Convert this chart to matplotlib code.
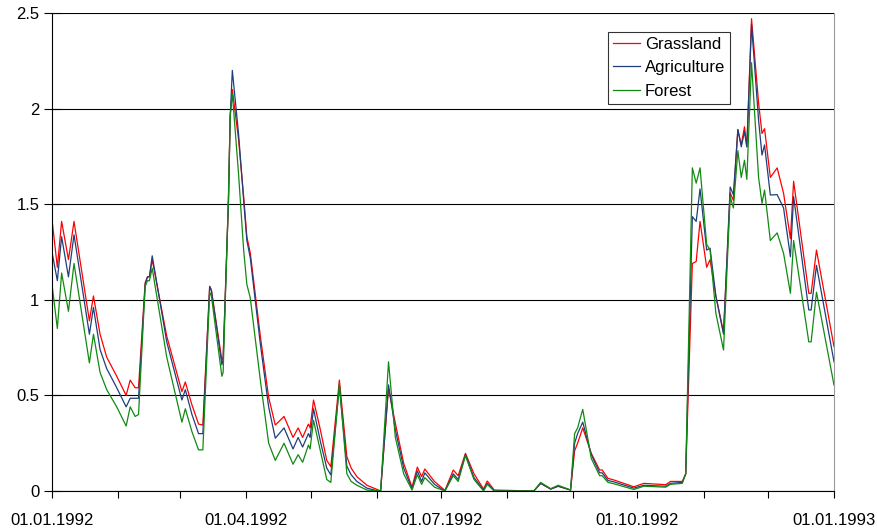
import numpy as np
import matplotlib
matplotlib.use('Agg')
import matplotlib.pyplot as plt
from matplotlib.ticker import FuncFormatter

plt.rcParams['font.family'] = ['Liberation Sans', 'DejaVu Sans']

# días desde el 01.01.1992
days = [0, 2.5, 4.5, 7.7, 10.3, 17.5, 19.4, 22.5, 25.6, 30.3, 34.7, 36.6, 38.9, 40.5,
        43.6, 44.7, 45.6, 46.9, 53.7, 60.8, 62.4, 65.5, 68.6, 70.6, 73.8, 74.6,
        79.5, 80.1, 82.6, 83.4, 84.4, 87.3, 89.7, 91.2, 92.8, 97.5, 101.4, 104.5,
        108.6, 112.8, 115.2, 117.3, 120.0, 120.8, 122.4, 125.6, 128.6, 130.5,
        134.5, 138.0, 140.0, 142.7, 147.4, 152.8, 153.8, 157.5, 160.7, 164.6, 168.5,
        171.0, 173.0, 174.5, 179.0, 183.9, 187.8, 190.1, 193.5, 197.5, 202.0,
        203.7, 207.0, 225.5, 228.7, 233.4, 236.9, 242.7, 244.6, 246.0, 248.4,
        252.4, 256.3, 257.5, 260.2, 262.9, 272.3, 277.0, 287.2, 289.5, 295.0,
        296.6, 299.7, 301.5, 303.3, 306.4, 308.0, 310.7, 314.3, 317.4, 318.9,
        321.0, 322.6, 324.1, 325.2, 327.4, 330.7, 332.3, 333.5, 336.2, 339.4,
        342.4, 345.6, 347.1, 354.2, 355.3, 357.8, 366]

grassland = [1.42, 1.17, 1.41, 1.21, 1.41, 0.89, 1.02, 0.82, 0.70, 0.60, 0.50, 0.58, 0.54, 0.54,
             1.09, 1.12, 1.12, 1.21, 0.81, 0.52, 0.57, 0.45, 0.35, 0.345, 1.07, 1.05,
             0.685, 0.70, 1.52, 1.96, 2.10, 1.84, 1.54, 1.33, 1.245, 0.81, 0.49, 0.345,
             0.39, 0.28, 0.33, 0.28, 0.35, 0.33, 0.476, 0.32, 0.16, 0.127,
             0.58, 0.18, 0.12, 0.075, 0.03, 0.005, 0.0, 0.537, 0.354, 0.145, 0.02,
             0.125, 0.075, 0.115, 0.05, 0.003, 0.11, 0.08, 0.197, 0.09, 0.01,
             0.052, 0.005, 0.0, 0.04, 0.01, 0.025, 0.005, 0.21, 0.25, 0.33,
             0.197, 0.11, 0.11, 0.066, 0.058, 0.022, 0.04, 0.033, 0.05, 0.05,
             0.09, 1.19, 1.20, 1.41, 1.17, 1.21, 1.02, 0.83, 1.56, 1.52,
             1.89, 1.81, 1.905, 1.80, 2.47, 2.03, 1.87, 1.895, 1.64, 1.69,
             1.557, 1.32, 1.62, 1.034, 1.034, 1.26, 0.755]

agriculture = [1.25, 1.10, 1.33, 1.12, 1.34, 0.82, 0.96, 0.74, 0.64, 0.54, 0.44, 0.485, 0.485, 0.485,
               1.08, 1.12, 1.12, 1.23, 0.78, 0.476, 0.53, 0.40, 0.30, 0.30, 1.07, 1.05,
               0.66, 0.69, 1.52, 1.96, 2.20, 1.87, 1.52, 1.31, 1.22, 0.77, 0.44, 0.276,
               0.33, 0.22, 0.28, 0.23, 0.30, 0.28, 0.43, 0.26, 0.12, 0.084,
               0.55, 0.13, 0.085, 0.05, 0.015, 0.0, 0.0, 0.555, 0.32, 0.12, 0.01,
               0.105, 0.05, 0.095, 0.035, 0.0, 0.09, 0.06, 0.19, 0.07, 0.005,
               0.04, 0.0, 0.0, 0.04, 0.01, 0.025, 0.005, 0.25, 0.30, 0.36,
               0.19, 0.095, 0.095, 0.055, 0.048, 0.015, 0.03, 0.025, 0.04, 0.045,
               0.09, 1.435, 1.41, 1.58, 1.26, 1.27, 1.02, 0.82, 1.59, 1.55,
               1.89, 1.80, 1.88, 1.80, 2.44, 1.94, 1.757, 1.81, 1.548, 1.55,
               1.48, 1.225, 1.54, 0.947, 0.947, 1.18, 0.676]

forest = [1.08, 0.85, 1.14, 0.94, 1.19, 0.67, 0.82, 0.62, 0.53, 0.44, 0.34, 0.44, 0.39, 0.40,
          1.07, 1.10, 1.10, 1.165, 0.70, 0.36, 0.43, 0.31, 0.215, 0.215, 1.04, 1.02,
          0.60, 0.62, 1.55, 1.96, 2.08, 1.66, 1.26, 1.08, 1.01, 0.58, 0.25, 0.16,
          0.25, 0.14, 0.19, 0.15, 0.24, 0.22, 0.37, 0.21, 0.06, 0.045,
          0.56, 0.09, 0.05, 0.03, 0.005, 0.0, 0.0, 0.676, 0.28, 0.09, 0.005,
          0.085, 0.035, 0.07, 0.02, 0.0, 0.08, 0.05, 0.185, 0.06, 0.0,
          0.035, 0.0, 0.0, 0.045, 0.012, 0.03, 0.005, 0.30, 0.33, 0.427,
          0.17, 0.08, 0.08, 0.045, 0.038, 0.008, 0.025, 0.02, 0.035, 0.04,
          0.09, 1.69, 1.61, 1.69, 1.29, 1.26, 0.93, 0.737, 1.54, 1.48,
          1.78, 1.64, 1.73, 1.63, 2.24, 1.64, 1.505, 1.574, 1.31, 1.35,
          1.243, 1.034, 1.31, 0.78, 0.78, 1.04, 0.554]

series_names = ['Grassland', 'Agriculture', 'Forest']
series_colors = ['#ff0000', '#1f3f7a', '#118a11']

# inicio de cada mes (ticks) y etiquetas trimestrales
start = np.datetime64('1992-01-01')
months = np.arange(np.datetime64('1992-01'), np.datetime64('1993-02'), dtype='datetime64[M]')
month_days = (months.astype('datetime64[D]') - start).astype(int)
quarter_days = month_days[::3]
quarter_labels = [m.astype('datetime64[D]').item().strftime('%d.%m.%Y') for m in months[::3]]

fig = plt.figure(figsize=(8.78, 5.28), dpi=100)
ax = fig.add_axes([52 / 878, 1 - 491 / 528, (834 - 52) / 878, (491 - 13) / 528])

for vals, name, col in zip([grassland, agriculture, forest], series_names, series_colors):
    ax.plot(days, vals, color=col, lw=0.9, label=name)

ax.set_xlim(0, month_days[-1])
ax.set_ylim(0, 2.5)

ax.set_yticks(np.arange(0, 2.51, 0.5))
ax.yaxis.set_major_formatter(FuncFormatter(lambda v, p: '%g' % v))
ax.grid(axis='y', color='black', lw=0.8)
ax.set_axisbelow(True)

ax.set_xticks(quarter_days)
ax.set_xticklabels(quarter_labels)
ax.set_xticks(month_days, minor=True)

ax.tick_params(axis='x', which='both', direction='out', length=5, width=0.8,
               labelsize=12, pad=11)
ax.tick_params(axis='y', direction='inout', length=12, width=0.8, labelsize=12, pad=3)

ax.spines['top'].set_visible(False)
ax.spines['right'].set_color('#9a9a9a')
ax.spines['left'].set_linewidth(0.8)
ax.spines['bottom'].set_linewidth(0.8)

leg = ax.legend(loc='upper left', bbox_to_anchor=((608 - 52) / 782, 1 - (32 - 13) / 478),
                fontsize=12, frameon=True, fancybox=False, handlelength=1.6,
                handletextpad=0.3, borderpad=0.3, labelspacing=0.5, borderaxespad=0)
leg.get_frame().set_edgecolor('black')
leg.get_frame().set_linewidth(0.8)

fig.savefig('out.png', dpi=100)
